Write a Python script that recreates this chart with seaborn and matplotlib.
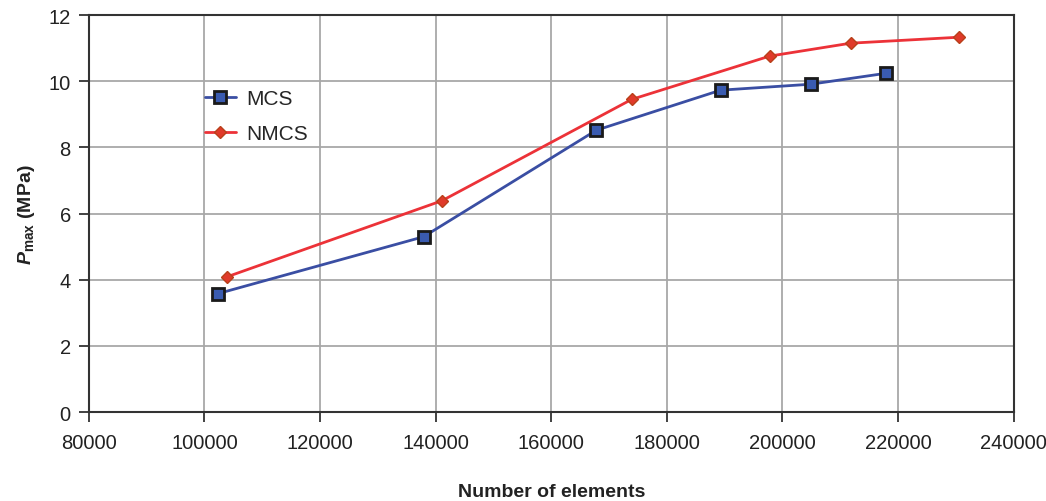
import pandas as pd
import matplotlib
matplotlib.use("Agg")
import matplotlib.pyplot as plt
import seaborn as sns

# Data
mcs_elements = [102300, 137900, 167800, 189300, 204900, 217900]
mcs_pmax = [3.58, 5.30, 8.52, 9.73, 9.91, 10.24]

nmcs_elements = [103900, 141100, 173900, 197800, 211800, 230500]
nmcs_pmax = [4.09, 6.39, 9.45, 10.76, 11.15, 11.33]

x_ticks = [80000, 100000, 120000, 140000, 160000, 180000, 200000, 220000, 240000]
y_ticks = [0, 2, 4, 6, 8, 10, 12]

df = pd.concat([
    pd.DataFrame({"elements": mcs_elements, "pmax": mcs_pmax, "method": "MCS"}),
    pd.DataFrame({"elements": nmcs_elements, "pmax": nmcs_pmax, "method": "NMCS"}),
])

sns.set_style("white")
plt.rcParams["font.family"] = ["Liberation Sans", "DejaVu Sans"]
plt.rcParams["mathtext.fontset"] = "custom"
plt.rcParams["mathtext.rm"] = "Liberation Sans"
plt.rcParams["mathtext.bf"] = "Liberation Sans:bold"
plt.rcParams["mathtext.bfit"] = "Liberation Sans:italic:bold"

fig = plt.figure(figsize=(10.46, 5.02), dpi=100)
ax = fig.add_axes([0.085, 0.177, 0.884, 0.791])

# ---------------------------
# Lines
# ---------------------------
sns.lineplot(
    data=df[df["method"] == "MCS"], x="elements", y="pmax",
    color="#3a4ea3", linewidth=2, marker="s", markersize=8,
    markerfacecolor="#3a5bb0", markeredgecolor="#1a1a1a", markeredgewidth=2,
    label="MCS", ax=ax, zorder=3,
)
sns.lineplot(
    data=df[df["method"] == "NMCS"], x="elements", y="pmax",
    color="#ec3238", linewidth=2, marker="D", markersize=6.5,
    markerfacecolor="#e03a2a", markeredgecolor="#b8401a", markeredgewidth=1,
    label="NMCS", ax=ax, zorder=3,
)

ax.set_xlim(80000, 240000)
ax.set_ylim(0, 12)
ax.set_xticks(x_ticks)
ax.set_yticks(y_ticks)
ax.grid(True, color="#a8a8a8", linewidth=1.3)
ax.set_axisbelow(True)

for s in ax.spines.values():
    s.set_color("#333333")
    s.set_linewidth(1.5)

ax.tick_params(axis="both", direction="out", length=7, width=1.3,
               color="#333333", labelsize=14.5, labelcolor="#222222")
ax.tick_params(axis="x", pad=8, bottom=True)
ax.tick_params(axis="y", pad=6, left=True)

ax.set_xlabel("Number of elements", fontsize=14, fontweight="bold",
              labelpad=22, color="#222222")
ax.set_ylabel(r"$\mathbfit{P}_{\mathbf{max}}$ (MPa)", fontsize=14,
              fontweight="bold", labelpad=8, color="#222222")

ax.legend(loc="upper left", bbox_to_anchor=(0.105, 0.86), frameon=False,
          fontsize=15, handlelength=1.5, labelspacing=0.75, handletextpad=0.5)

plt.savefig("out.png", dpi=100)
